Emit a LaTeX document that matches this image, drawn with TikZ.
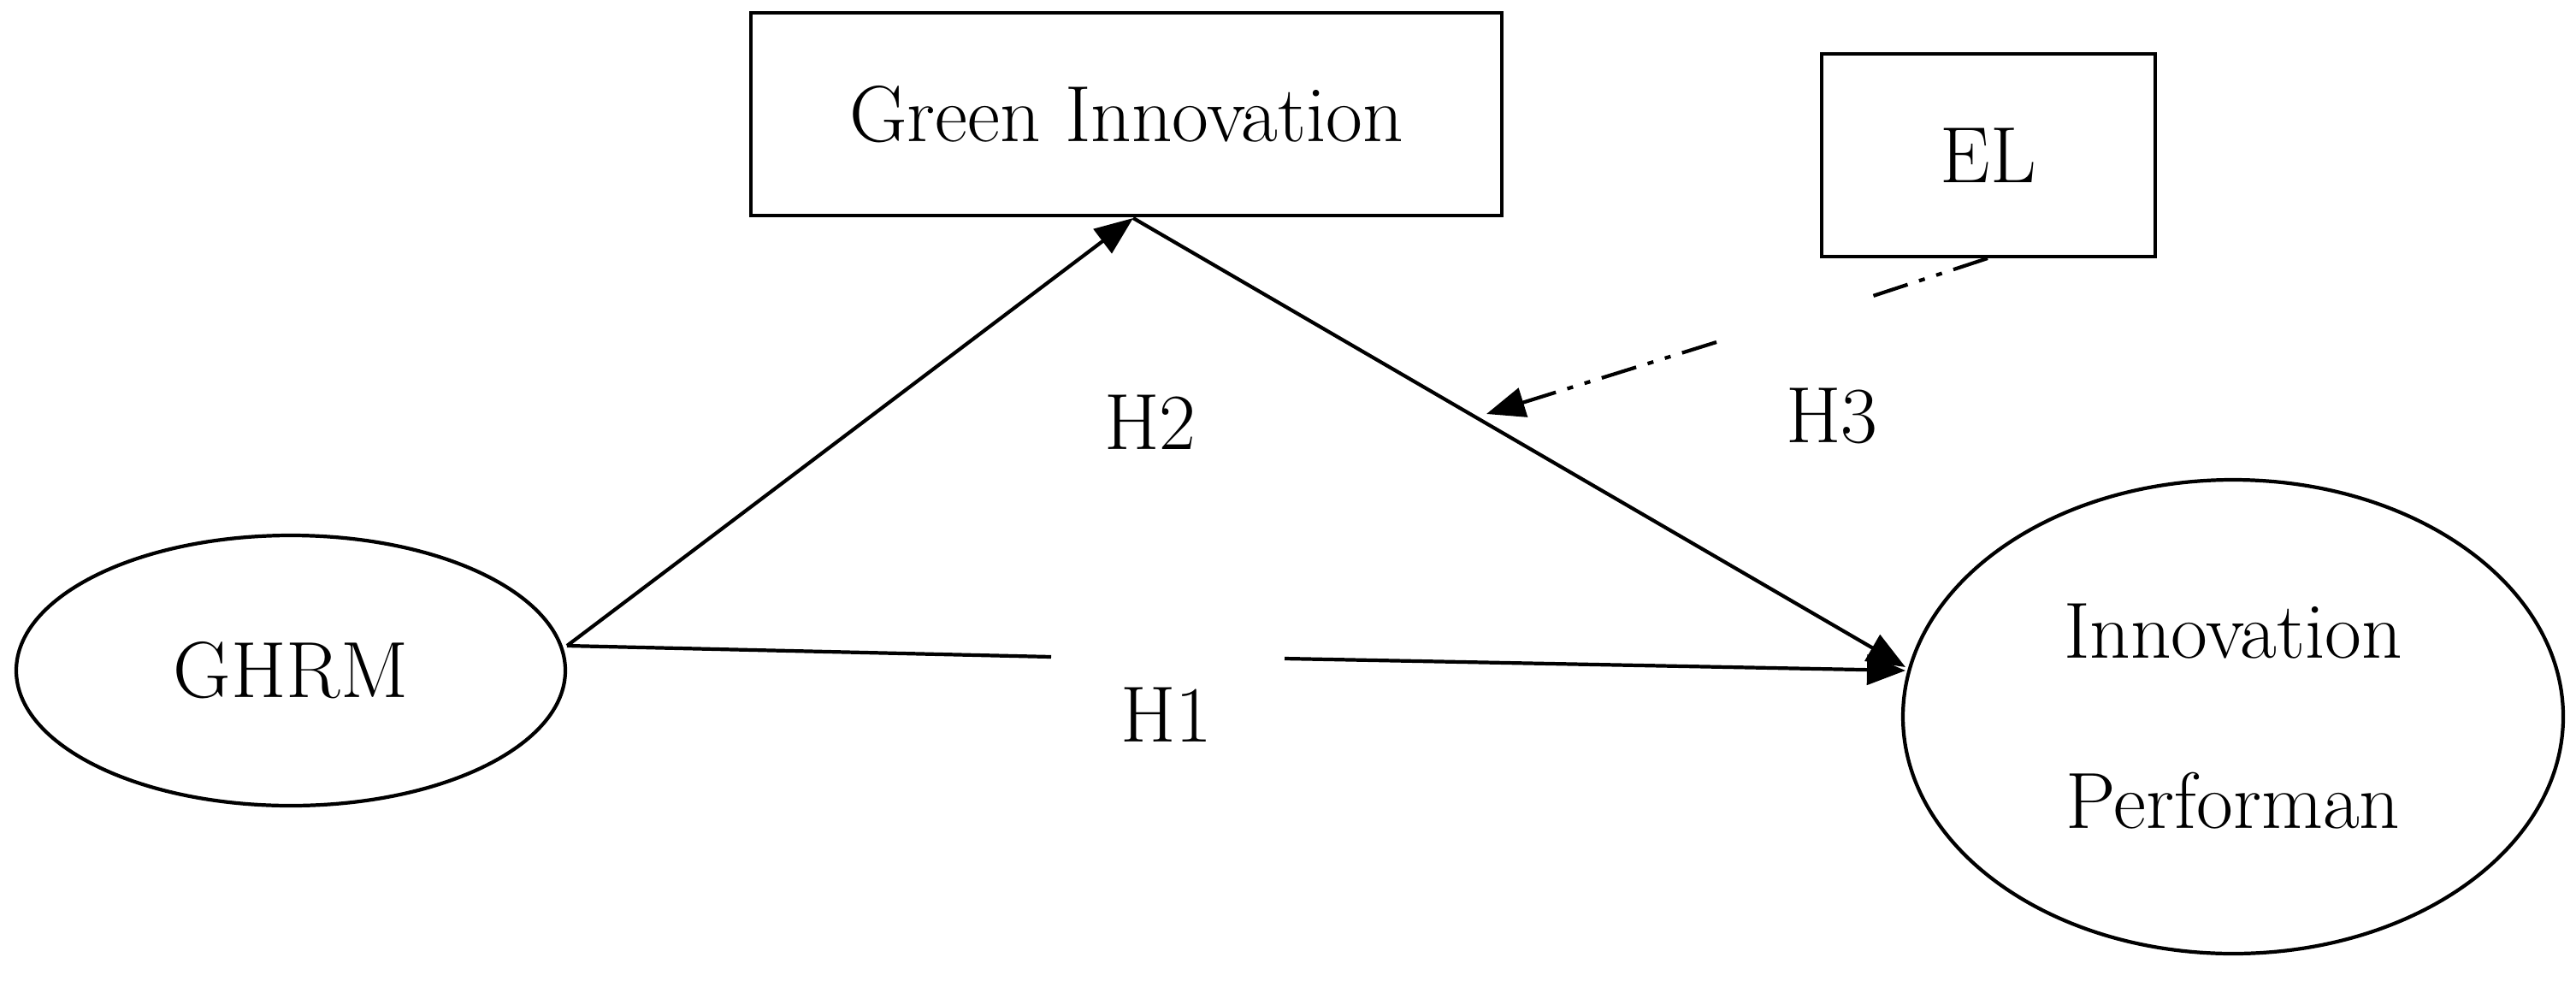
\documentclass[tikz,border=0pt]{standalone}
\usetikzlibrary{shapes.geometric,arrows.meta}
\begin{document}
\begin{tikzpicture}[x=1cm,y=-1cm,
  lbl/.style={font=\fontsize{26.5}{31}\selectfont},
  box/.style={draw,line width=1.2pt,inner sep=0pt},
  ell/.style={draw,ellipse,line width=1.2pt,inner sep=0pt},
  con/.style={line width=1.2pt},
  tip/.style={-{Triangle[length=0.45cm,width=0.35cm]}}]
\useasboundingbox (0,0) rectangle (30.12,11.46);
\node[box,minimum width=8.78cm,minimum height=2.37cm,lbl] (gi) at (13.17,1.335) {Green Innovation};
\node[box,minimum width=3.9cm,minimum height=2.37cm,lbl] (el) at (23.25,1.815) {EL};
\node[ell,minimum width=6.42cm,minimum height=3.16cm,lbl] (gh) at (3.40,7.84) {GHRM};
\node[ell,minimum width=7.72cm,minimum height=5.54cm,lbl,align=center] (ip) at (26.11,8.38) {Innovation\\[0.9cm]Performan};
\coordinate (a) at (6.63,7.55);
\coordinate (b) at (13.25,2.55);
\coordinate (c) at (22.28,7.80);
\draw[con,tip] (a) -- (b);
\draw[con,tip] (b) -- (c);
\coordinate (g1) at (12.29,7.68);
\coordinate (g2) at (15.02,7.70);
\coordinate (d) at (22.28,7.84);
\draw[con] (a) -- (g1);
\draw[con,tip] (g2) -- (d);
\coordinate (e1) at (23.24,3.02);
\coordinate (e2) at (21.90,3.46);
\coordinate (e3) at (20.07,4.00);
\coordinate (e4) at (17.38,4.84);
\draw[con,dash pattern=on 12pt off 4pt on 2pt off 4pt on 2pt off 4pt] (e1) -- (e2);
\draw[con,tip,dash pattern=on 12pt off 4pt on 2pt off 4pt on 2pt off 4pt] (e3) -- (e4);
\node[lbl] (h2) at (13.45,4.94) {H2};
\node[lbl] (h3) at (21.42,4.86) {H3};
\node[lbl] (h1) at (13.64,8.36) {H1};
\end{tikzpicture}
\end{document}
